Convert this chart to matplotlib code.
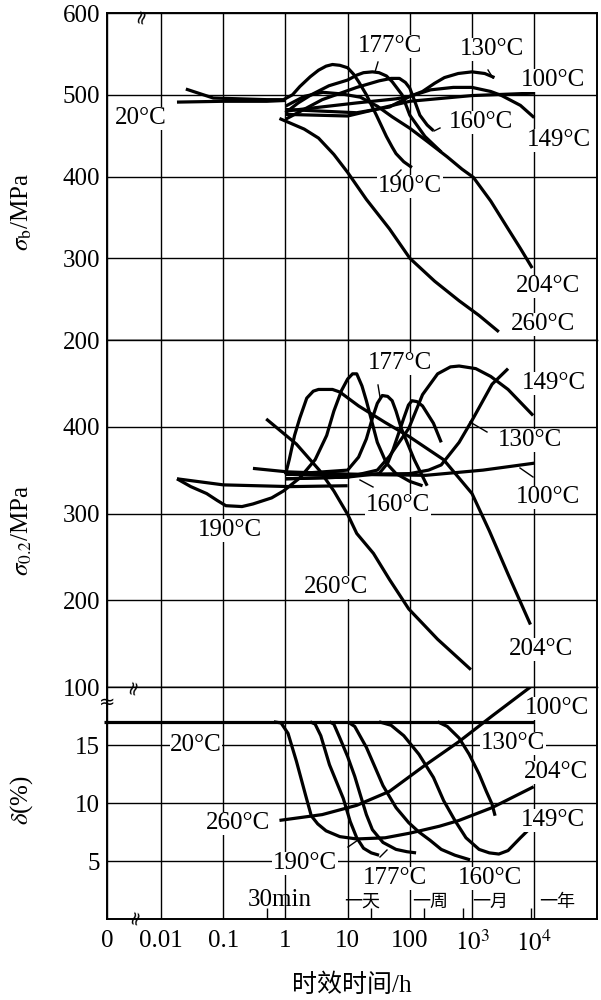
import matplotlib.pyplot as plt
from matplotlib.lines import Line2D

plt.rcParams['font.family'] = ['Liberation Serif', 'Noto Sans CJK SC']
plt.rcParams['mathtext.fontset'] = 'stix'

# ---------------- data (time in hours) ----------------
# tensile strength sigma_b (MPa)
sb_20_t = [0.018, 0.1, 0.5, 1.0]
sb_20_v = [491, 492, 492, 493]
sb_190_t = [0.025, 0.069, 0.5, 0.93, 1.3, 1.7, 2.5, 3.4, 4.5, 5.7, 7.5, 10, 12.5, 15, 20, 29, 42, 52, 60, 80, 108]
sb_190_v = [507, 496, 494, 494, 500, 510, 522, 530, 535, 537, 536, 533, 525, 516, 500, 475, 449, 436, 428, 418, 411]
sb_177_t = [1, 1.6, 2.6, 5, 10, 14, 18, 25, 32, 42, 52, 75, 100, 175, 320]
sb_177_v = [478, 490, 500, 511, 518, 524, 527, 528, 527, 523, 516, 500, 475, 449, 430]
sb_160_t = [1, 3.9, 14, 32, 50, 68, 85, 100, 120, 145, 190, 240]
sb_160_v = [470, 494, 509, 517, 520, 520, 515, 508, 492, 475, 463, 456]
sb_149_t = [1, 14, 47, 100, 215, 500, 1000, 2000, 3000, 6000, 10000]
sb_149_v = [482, 478, 485, 498, 506, 509, 509, 504, 499, 487, 472]
sb_130_t = [1, 14, 60, 100, 160, 250, 360, 600, 1000, 1600, 2300]
sb_130_v = [480, 490, 495, 498, 504, 514, 521, 526, 528, 526, 521]
sb_100_t = [1.0, 10, 100, 1000, 10000]
sb_100_v = [476, 474, 492, 499, 502]
sb_204_t = [1, 2, 4, 8, 16, 30, 52, 100, 190, 400, 690, 1050, 2000, 3800, 6000, 9300]
sb_204_v = [486, 498, 503, 501, 497, 486, 473, 459, 443, 424, 409, 399, 370, 336, 312, 288]
sb_260_t = [0.8, 2, 3.4, 6, 10, 20, 47, 100, 250, 620, 1300, 2700]
sb_260_v = [471, 458, 447, 427, 405, 372, 336, 300, 272, 248, 230, 210]

# yield strength sigma_0.2 (MPa)
s2_20_t = [0.018, 0.1, 1.2, 10]
s2_20_v = [340, 333, 331, 332]
s2_190_t = [0.018, 0.03, 0.054, 0.08, 0.11, 0.2, 0.3, 0.6, 0.93, 1.7, 3.0, 4.6, 6, 8, 10, 12, 14, 17, 20, 30, 42, 60, 100, 160]
s2_190_v = [340, 331, 323, 315, 309, 308, 311, 318, 326, 341, 362, 390, 418, 442, 455, 461, 461, 447, 430, 382, 358, 346, 337, 332]
s2_204_t = [1, 1.15, 1.4, 1.7, 2.2, 2.8, 3.4, 5.7, 7.5, 15, 40, 96, 350, 1000, 1900, 3800, 8700]
s2_204_v = [345, 362, 390, 410, 433, 441, 443, 443, 440, 424, 405, 389, 362, 323, 280, 230, 172]
s2_177_t = [1, 10, 15, 20, 25, 30, 36, 44, 52, 60, 73, 118, 190]
s2_177_v = [345, 350, 365, 386, 410, 427, 436, 435, 430, 418, 398, 362, 332]
s2_160_t = [1, 10, 32, 44, 54, 80, 95, 108, 130, 160, 240, 320]
s2_160_v = [340, 342, 346, 358, 374, 410, 425, 430, 429, 424, 404, 382]
s2_149_t = [1, 10, 30, 47, 96, 160, 280, 450, 620, 1150, 2000, 3800, 9600]
s2_149_v = [340, 342, 350, 366, 398, 437, 461, 469, 470, 467, 458, 443, 413]
s2_130_t = [1, 10, 100, 200, 320, 620, 1050, 2100, 3800]
s2_130_v = [345, 345, 346, 350, 356, 382, 410, 449, 467]
s2_100_t = [0.3, 1.07, 15, 180, 1500, 10000]
s2_100_v = [352, 348, 345, 344, 350, 358]
s2_260_t = [0.49, 1.5, 3.5, 6, 10, 14, 26, 47, 96, 280, 960]
s2_260_v = [409, 380, 350, 326, 299, 277, 254, 224, 190, 155, 120]

# elongation delta (%)
d_20_t = [0.0012, 10000]
d_20_v = [17, 17]
d_204_t = [0.65, 0.85, 1.1, 1.5, 2.1, 2.6, 3.3, 4.5, 7.5, 14, 40, 100, 300, 620, 2100, 9800]
d_204_v = [17, 16.9, 16.0, 13.6, 10.7, 8.9, 8.2, 7.6, 7.1, 6.9, 7.0, 7.4, 8.0, 8.5, 9.6, 11.4]
d_190_t = [2.5, 3.0, 3.7, 5.1, 7, 8.5, 11, 14, 18, 24, 32]
d_190_v = [17, 16.8, 15.8, 13.3, 11.5, 10.4, 8.4, 7.0, 6.1, 5.7, 5.5]
d_177_t = [5.1, 6.0, 7.5, 10, 13, 16, 20, 25, 37, 60, 90, 126]
d_177_v = [17, 16.8, 15.6, 14.0, 12.3, 10.7, 9.0, 7.7, 6.6, 6.0, 5.8, 5.7]
d_160_t = [10, 13, 20, 28, 37, 60, 96, 140, 210, 320, 530, 930]
d_160_v = [17, 16.6, 14.8, 13.0, 11.5, 9.6, 8.3, 7.5, 6.8, 6.0, 5.5, 5.1]
d_149_t = [32, 50, 80, 140, 240, 350, 530, 800, 1300, 1900, 2700, 3800, 6000, 7800]
d_149_v = [17, 16.7, 15.8, 14.2, 12.2, 10.2, 8.5, 7.0, 6.0, 5.7, 5.6, 5.9, 7.0, 7.6]
d_130_t = [280, 400, 620, 900, 1300, 1700, 2100, 2350]
d_130_v = [17, 16.6, 15.6, 14.2, 12.5, 11.0, 9.9, 8.9]
d_260_t = [0.8, 3.9, 14, 47, 160, 620, 2100, 8700]
d_260_v = [8.5, 9.0, 9.8, 11.0, 13.1, 15.3, 17.5, 20.0]

x_ticks = [0.01, 0.1, 1, 10, 100, 1000, 10000]
x_ticklabels = ['0.01', '0.1', '1', '10', '100', r'$10^3$', r'$10^4$']
time_marks = [0.5, 24, 168, 720, 8760]

W, H = 601, 1000
XMIN, XMAX = 10 ** -2.87, 10 ** 5.01

fig = plt.figure(figsize=(W / 100, H / 100), dpi=100)
left, width = 107 / W, 490 / W
ax_b = fig.add_axes([left, 1 - 340 / H, width, 327 / H])
ax_2 = fig.add_axes([left, 1 - 687 / H, width, 347 / H])
ax_d = fig.add_axes([left, 1 - 919 / H, width, 232 / H])

line_kw = dict(color='black', lw=2.3, solid_joinstyle='round', solid_capstyle='butt')

for t, v in [(sb_20_t, sb_20_v), (sb_190_t, sb_190_v), (sb_177_t, sb_177_v),
             (sb_160_t, sb_160_v), (sb_149_t, sb_149_v), (sb_130_t, sb_130_v),
             (sb_100_t, sb_100_v), (sb_204_t, sb_204_v), (sb_260_t, sb_260_v)]:
    ax_b.plot(t, v, **line_kw)
for t, v in [(s2_20_t, s2_20_v), (s2_190_t, s2_190_v), (s2_204_t, s2_204_v),
             (s2_177_t, s2_177_v), (s2_160_t, s2_160_v), (s2_149_t, s2_149_v),
             (s2_130_t, s2_130_v), (s2_100_t, s2_100_v), (s2_260_t, s2_260_v)]:
    ax_2.plot(t, v, **line_kw)
ax_d.plot(d_20_t, d_20_v, clip_on=False, **line_kw)
for t, v in [(d_204_t, d_204_v), (d_190_t, d_190_v), (d_177_t, d_177_v),
             (d_160_t, d_160_v), (d_149_t, d_149_v), (d_130_t, d_130_v),
             (d_260_t, d_260_v)]:
    ax_d.plot(t, v, **line_kw)

ax_b.set_ylim(200, 600)
ax_b.set_yticks([200, 300, 400, 500, 600])
ax_2.set_ylim(100, 500)
ax_2.set_yticks([100, 200, 300, 400])
ax_d.set_ylim(0, 20)
ax_d.set_yticks([5, 10, 15])

for ax in (ax_b, ax_2, ax_d):
    ax.set_xscale('log')
    ax.set_xlim(XMIN, XMAX)
    ax.set_xticks([XMIN] + x_ticks)
    ax.xaxis.set_minor_locator(plt.NullLocator())
    ax.grid(True, which='major', color='black', lw=1.0)
    ax.tick_params(axis='both', which='major', length=0, labelsize=18, pad=5)
    ax.tick_params(axis='x', labelbottom=False)
    for s in ax.spines.values():
        s.set_linewidth(1.4)

ax_b.spines['bottom'].set_linewidth(1.0)
ax_2.spines['top'].set_linewidth(1.0)
ax_2.spines['bottom'].set_linewidth(1.0)
ax_d.spines['top'].set_linewidth(1.0)

ax_d.tick_params(axis='x', labelbottom=True, pad=8)
ax_d.set_xticklabels(['0'] + x_ticklabels)
ax_d.set_xticks(time_marks, minor=True)
ax_d.tick_params(axis='x', which='minor', direction='in', length=8, width=1.0)


def label(px, py, s, size=18):
    fig.text(px / W, 1 - py / H, s, ha='center', va='center', fontsize=size,
             bbox=dict(facecolor='white', edgecolor='none', pad=0.3))


def leader(x0, y0, x1, y1):
    fig.add_artist(Line2D([x0 / W, x1 / W], [1 - y0 / H, 1 - y1 / H], color='black', lw=1.0))


# sigma_b labels
label(390, 46, '177°C')
label(492, 49, '130°C')
label(553, 80, '100°C')
label(141, 118, '20°C')
label(481, 122, '160°C')
label(559, 140, '149°C')
label(410, 186, '190°C')
label(548, 286, '204°C')
label(543, 324, '260°C')
leader(378, 62, 375, 72)
leader(488, 70, 493, 78)
leader(440, 128, 434, 131)
leader(401, 170, 396, 175)

# sigma_0.2 labels
label(400, 363, '177°C')
label(554, 383, '149°C')
label(530, 440, '130°C')
label(548, 497, '100°C')
label(398, 505, '160°C')
label(230, 530, '190°C')
label(336, 587, '260°C')
label(541, 649, '204°C')
leader(378, 385, 380, 397)
leader(470, 422, 487, 432)
leader(520, 468, 533, 477)
leader(360, 480, 373, 487)

# delta labels
label(557, 708, '100°C')
label(196, 745, '20°C')
label(513, 743, '130°C')
label(556, 772, '204°C')
label(238, 823, '260°C')
label(553, 820, '149°C')
label(305, 863, '190°C')
label(395, 878, '177°C')
label(490, 878, '160°C')
leader(348, 847, 358, 840)
leader(380, 857, 387, 850)

# time marks
fig.text(280 / W, 1 - 900 / H, '30min', ha='center', va='center', fontsize=18)
for px, s in [(362, '一天'), (430, '一周'), (490, '一月'), (557, '一年')]:
    fig.text(px / W, 1 - 902 / H, s, ha='center', va='center', fontsize=13)

# axis titles
fig.text(22 / W, 1 - 212 / H, r'$\sigma_{\rm b}$/MPa', rotation=90, ha='center', va='center', fontsize=18)
fig.text(22 / W, 1 - 530 / H, r'$\sigma_{0.2}$/MPa', rotation=90, ha='center', va='center', fontsize=18)
fig.text(22 / W, 1 - 800 / H, r'$\delta$(%)', rotation=90, ha='center', va='center', fontsize=18)
fig.text(352 / W, 1 - 985 / H, '时效时间/h', ha='center', va='center', fontsize=18)

# axis break marks
for px, py, rot in [(141, 15, 75), (133, 686, 75), (135, 916, 75), (107, 702, 0)]:
    fig.text(px / W, 1 - py / H, '≈', rotation=rot, ha='center', va='center',
             fontsize=14, family='DejaVu Sans')

fig.savefig('out.png', dpi=100)
